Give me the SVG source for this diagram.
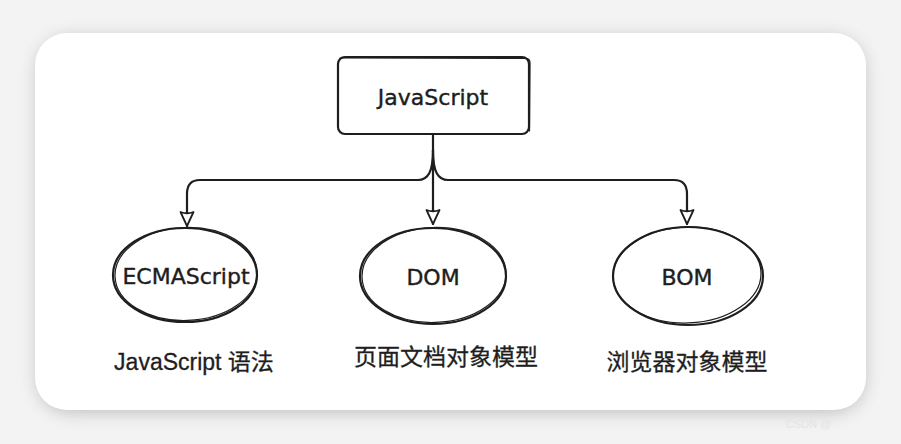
<svg xmlns="http://www.w3.org/2000/svg" width="901" height="444" viewBox="0 0 901 444">
<defs>
<filter id="sh" x="-10%" y="-10%" width="120%" height="120%">
<feGaussianBlur stdDeviation="9"/>
</filter>
<marker id="arr" viewBox="0 0 18 18" refX="16" refY="9" markerWidth="18" markerHeight="18" markerUnits="userSpaceOnUse" orient="auto">
<path d="M2,2.5 L16,9 L2,15.5 Q4.5,9 2,2.5 Z" fill="#fff" stroke="#1e1e1e" stroke-width="1.8" stroke-linejoin="round"/>
</marker>
<style>
.ln{fill:none;stroke:#1e1e1e;stroke-width:2.2;stroke-linecap:round;stroke-linejoin:round}
.ln2{fill:none;stroke:#1e1e1e;stroke-width:1.2;stroke-linecap:round}
.nt{font-family:"DejaVu Sans","Liberation Sans",sans-serif;font-size:22px;fill:#1e1e1e;stroke:#1e1e1e;stroke-width:0.4;text-anchor:middle;dominant-baseline:central}
.lb{font-family:"Liberation Sans","Noto Sans CJK SC",sans-serif;font-size:23px;fill:#1e1e1e;stroke:#1e1e1e;stroke-width:0.3;text-anchor:middle;dominant-baseline:central}
</style>
</defs>
<rect x="0" y="0" width="901" height="444" fill="#f3f3f3"/>
<rect x="38" y="38" width="826" height="374" rx="32" fill="#bcbcbc" filter="url(#sh)"/>
<rect x="35" y="33" width="831" height="377" rx="32" fill="#ffffff"/>

<g id="connectors">
<path class="ln" d="M433,134 L433,224" marker-end="url(#arr)"/>
<path class="ln" d="M433,150 C433,172 428,180 418,180 L200,180 Q187,180 187,194 L187,226" marker-end="url(#arr)"/>
<path class="ln" d="M433,150 C433,172 438,180 448,180 L674,180 Q687,180 687,194 L687,224" marker-end="url(#arr)"/>
</g>

<g id="javascript">
<rect class="ln" x="338" y="57" width="191" height="77" rx="7"/>
<path class="ln2" d="M340,58 L527,58.5 Q530,59 530,63 L529.5,131"/>
<text class="nt" x="433" y="97">JavaScript</text>
</g>

<g id="ecmascript">
<ellipse class="ln" cx="185" cy="275" rx="72" ry="47"/>
<ellipse class="ln2" cx="186" cy="274" rx="71" ry="46.5" transform="rotate(-2 186 274)"/>
<text class="nt" x="186" y="276" font-size="24">ECMAScript</text>
<text class="lb" x="194" y="362">JavaScript 语法</text>
</g>

<g id="dom">
<ellipse class="ln" cx="433" cy="276" rx="73" ry="48"/>
<ellipse class="ln2" cx="434" cy="275" rx="72" ry="47.5" transform="rotate(-2 434 275)"/>
<text class="nt" x="433" y="277" font-size="23">DOM</text>
<text class="lb" x="446" y="357">页面文档对象模型</text>
</g>

<g id="bom">
<ellipse class="ln" cx="688" cy="276" rx="75" ry="49"/>
<ellipse class="ln2" cx="687" cy="275" rx="74" ry="48" transform="rotate(-2 687 275)"/>
<text class="nt" x="687" y="277" font-size="23">BOM</text>
<text class="lb" x="687" y="362">浏览器对象模型</text>
</g>

<text x="786" y="428" font-family="Liberation Sans,sans-serif" font-size="11" fill="#e4e4e4">CSDN @</text>
</svg>
